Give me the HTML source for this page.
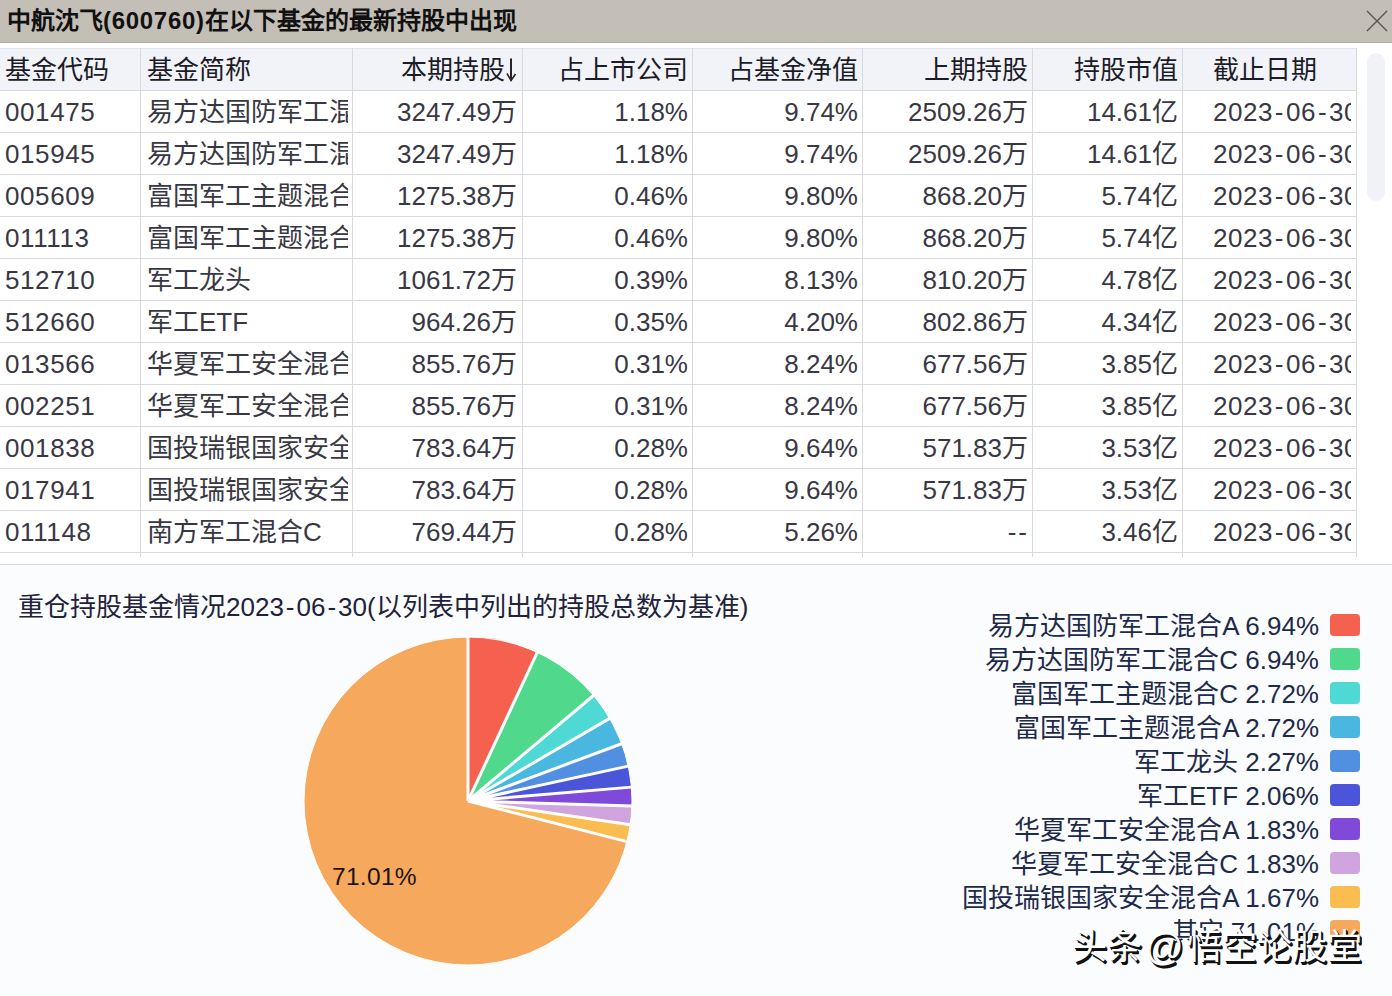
<!DOCTYPE html>
<html lang="zh-CN"><head><meta charset="utf-8">
<style>
*{margin:0;padding:0;box-sizing:border-box}
html,body{width:1392px;height:996px;overflow:hidden;background:#fbfcfe;font-family:"Liberation Sans",sans-serif;color:#262633}
#title{position:absolute;left:0;top:0;width:1392px;height:43px;background:#c3beb6;border-bottom:1px solid #b3aea5}
#title .t{position:absolute;left:7px;top:6px;font-size:24px;font-weight:bold;color:#111;line-height:30px;white-space:nowrap}
.pn{letter-spacing:0.7px}
#close{position:absolute;left:1366px;top:10px;width:22px;height:22px}
#tbl{position:absolute;left:0;top:43px;width:1392px;height:521px;background:#fff}
#tbl>*{position:absolute}
.hbg{left:0;top:48px;width:1356px;height:42px;background:#f1f3f8;margin-top:-43px;border-top:1px solid #e3e5eb}
.hl{left:0;width:1356px;height:1px;background:#d8dae0;margin-top:-43px}
.vl{top:5px;width:1px;height:509px;background:#d8dae0}
.c{height:42px;line-height:42px;font-size:26px;white-space:nowrap;overflow:hidden;margin-top:-42px;color:#383844}
.c.h{color:#1c1c28}
.r{text-align:right}
.hy{padding:0 2px}
.ar{font-size:22px}
#sep{position:absolute;left:0;top:564px;width:1392px;height:1px;background:#d9dbe1}
#sb{position:absolute;left:1367px;top:53px;width:18px;height:148px;background:#f0f2f7;border-radius:9px}
#ctitle{position:absolute;left:18px;top:591px;font-size:26px;line-height:32px;white-space:nowrap;color:#22223a}
.lgt{position:absolute;right:73px;margin-top:1px;font-size:26px;line-height:32px;white-space:nowrap;color:#1e2a4a}
.sq{position:absolute;left:1330px;width:30px;height:22px;border-radius:4px}
#plab{position:absolute;left:332px;top:862px;font-size:24.5px;line-height:30px;letter-spacing:0.3px;color:#1c1410}
#wm{position:absolute;left:1072px;top:925px;font-size:35px;line-height:44px;white-space:nowrap;color:#fff;font-weight:normal;text-shadow:1px 1px 0 #111,2px 2px 0 #111,2px 3px 0 #111}
.dd{padding:0 1px}

.code{letter-spacing:0.6px}
.dt{letter-spacing:0.5px}
.at{font-size:38px;margin:0 3px 0 3px;vertical-align:-1px}

</style></head><body>
<div id="title"><div class="t">中航沈飞<span class=pn>(600760)</span>在以下基金的最新持股中出现</div>
<svg id="close" viewBox="0 0 22 22"><path d="M1 1L21 21M21 1L1 21" stroke="#57554f" stroke-width="1.35"/></svg>
</div>
<div id="tbl">
<div class="hbg" style="top:48px"></div>
<div class="hl" style="top:90px"></div>
<div class="hl" style="top:132px"></div>
<div class="hl" style="top:174px"></div>
<div class="hl" style="top:216px"></div>
<div class="hl" style="top:258px"></div>
<div class="hl" style="top:300px"></div>
<div class="hl" style="top:342px"></div>
<div class="hl" style="top:384px"></div>
<div class="hl" style="top:426px"></div>
<div class="hl" style="top:468px"></div>
<div class="hl" style="top:510px"></div>
<div class="hl" style="top:552px"></div>
<div class="vl" style="left:140px"></div>
<div class="vl" style="left:352px"></div>
<div class="vl" style="left:522px"></div>
<div class="vl" style="left:692px"></div>
<div class="vl" style="left:862px"></div>
<div class="vl" style="left:1032px"></div>
<div class="vl" style="left:1182px"></div>
<div class="vl" style="left:1356px"></div>
<div class="c h" style="left:5px;top:48px;width:135px">基金代码</div>
<div class="c h" style="left:147px;top:48px;width:201px">基金简称</div>
<div class="c r h" style="left:352px;top:48px;width:153px">本期持股</div>
<div class="c r h" style="left:522px;top:48px;width:166px">占上市公司</div>
<div class="c r h" style="left:692px;top:48px;width:166px">占基金净值</div>
<div class="c r h" style="left:862px;top:48px;width:166px">上期持股</div>
<div class="c r h" style="left:1032px;top:48px;width:146px">持股市值</div>
<div class="c h" style="left:1213px;top:48px;width:138px">截止日期</div>
<svg style="left:506px;top:15px" width="11" height="24" viewBox="0 0 11 24"><path d="M5 0.5V22.5" stroke="#2a2228" stroke-width="2"/><path d="M1 15.5L5 22.5L9.5 16" stroke="#2a2228" stroke-width="1.6" fill="none"/></svg>
<div class="c code" style="left:5px;top:90px;width:135px">001475</div>
<div class="c" style="left:147px;top:90px;width:201px">易方达国防军工混合A</div>
<div class="c r" style="left:352px;top:90px;width:165px">3247.49万</div>
<div class="c r" style="left:522px;top:90px;width:166px">1.18%</div>
<div class="c r" style="left:692px;top:90px;width:166px">9.74%</div>
<div class="c r" style="left:862px;top:90px;width:166px">2509.26万</div>
<div class="c r" style="left:1032px;top:90px;width:146px">14.61亿</div>
<div class="c dt" style="left:1213px;top:90px;width:138px">2023<span class=hy>-</span>06<span class=hy>-</span>30</div>
<div class="c code" style="left:5px;top:132px;width:135px">015945</div>
<div class="c" style="left:147px;top:132px;width:201px">易方达国防军工混合C</div>
<div class="c r" style="left:352px;top:132px;width:165px">3247.49万</div>
<div class="c r" style="left:522px;top:132px;width:166px">1.18%</div>
<div class="c r" style="left:692px;top:132px;width:166px">9.74%</div>
<div class="c r" style="left:862px;top:132px;width:166px">2509.26万</div>
<div class="c r" style="left:1032px;top:132px;width:146px">14.61亿</div>
<div class="c dt" style="left:1213px;top:132px;width:138px">2023<span class=hy>-</span>06<span class=hy>-</span>30</div>
<div class="c code" style="left:5px;top:174px;width:135px">005609</div>
<div class="c" style="left:147px;top:174px;width:201px">富国军工主题混合C</div>
<div class="c r" style="left:352px;top:174px;width:165px">1275.38万</div>
<div class="c r" style="left:522px;top:174px;width:166px">0.46%</div>
<div class="c r" style="left:692px;top:174px;width:166px">9.80%</div>
<div class="c r" style="left:862px;top:174px;width:166px">868.20万</div>
<div class="c r" style="left:1032px;top:174px;width:146px">5.74亿</div>
<div class="c dt" style="left:1213px;top:174px;width:138px">2023<span class=hy>-</span>06<span class=hy>-</span>30</div>
<div class="c code" style="left:5px;top:216px;width:135px">011113</div>
<div class="c" style="left:147px;top:216px;width:201px">富国军工主题混合A</div>
<div class="c r" style="left:352px;top:216px;width:165px">1275.38万</div>
<div class="c r" style="left:522px;top:216px;width:166px">0.46%</div>
<div class="c r" style="left:692px;top:216px;width:166px">9.80%</div>
<div class="c r" style="left:862px;top:216px;width:166px">868.20万</div>
<div class="c r" style="left:1032px;top:216px;width:146px">5.74亿</div>
<div class="c dt" style="left:1213px;top:216px;width:138px">2023<span class=hy>-</span>06<span class=hy>-</span>30</div>
<div class="c code" style="left:5px;top:258px;width:135px">512710</div>
<div class="c" style="left:147px;top:258px;width:201px">军工龙头</div>
<div class="c r" style="left:352px;top:258px;width:165px">1061.72万</div>
<div class="c r" style="left:522px;top:258px;width:166px">0.39%</div>
<div class="c r" style="left:692px;top:258px;width:166px">8.13%</div>
<div class="c r" style="left:862px;top:258px;width:166px">810.20万</div>
<div class="c r" style="left:1032px;top:258px;width:146px">4.78亿</div>
<div class="c dt" style="left:1213px;top:258px;width:138px">2023<span class=hy>-</span>06<span class=hy>-</span>30</div>
<div class="c code" style="left:5px;top:300px;width:135px">512660</div>
<div class="c" style="left:147px;top:300px;width:201px">军工ETF</div>
<div class="c r" style="left:352px;top:300px;width:165px">964.26万</div>
<div class="c r" style="left:522px;top:300px;width:166px">0.35%</div>
<div class="c r" style="left:692px;top:300px;width:166px">4.20%</div>
<div class="c r" style="left:862px;top:300px;width:166px">802.86万</div>
<div class="c r" style="left:1032px;top:300px;width:146px">4.34亿</div>
<div class="c dt" style="left:1213px;top:300px;width:138px">2023<span class=hy>-</span>06<span class=hy>-</span>30</div>
<div class="c code" style="left:5px;top:342px;width:135px">013566</div>
<div class="c" style="left:147px;top:342px;width:201px">华夏军工安全混合A</div>
<div class="c r" style="left:352px;top:342px;width:165px">855.76万</div>
<div class="c r" style="left:522px;top:342px;width:166px">0.31%</div>
<div class="c r" style="left:692px;top:342px;width:166px">8.24%</div>
<div class="c r" style="left:862px;top:342px;width:166px">677.56万</div>
<div class="c r" style="left:1032px;top:342px;width:146px">3.85亿</div>
<div class="c dt" style="left:1213px;top:342px;width:138px">2023<span class=hy>-</span>06<span class=hy>-</span>30</div>
<div class="c code" style="left:5px;top:384px;width:135px">002251</div>
<div class="c" style="left:147px;top:384px;width:201px">华夏军工安全混合C</div>
<div class="c r" style="left:352px;top:384px;width:165px">855.76万</div>
<div class="c r" style="left:522px;top:384px;width:166px">0.31%</div>
<div class="c r" style="left:692px;top:384px;width:166px">8.24%</div>
<div class="c r" style="left:862px;top:384px;width:166px">677.56万</div>
<div class="c r" style="left:1032px;top:384px;width:146px">3.85亿</div>
<div class="c dt" style="left:1213px;top:384px;width:138px">2023<span class=hy>-</span>06<span class=hy>-</span>30</div>
<div class="c code" style="left:5px;top:426px;width:135px">001838</div>
<div class="c" style="left:147px;top:426px;width:201px">国投瑞银国家安全混合A</div>
<div class="c r" style="left:352px;top:426px;width:165px">783.64万</div>
<div class="c r" style="left:522px;top:426px;width:166px">0.28%</div>
<div class="c r" style="left:692px;top:426px;width:166px">9.64%</div>
<div class="c r" style="left:862px;top:426px;width:166px">571.83万</div>
<div class="c r" style="left:1032px;top:426px;width:146px">3.53亿</div>
<div class="c dt" style="left:1213px;top:426px;width:138px">2023<span class=hy>-</span>06<span class=hy>-</span>30</div>
<div class="c code" style="left:5px;top:468px;width:135px">017941</div>
<div class="c" style="left:147px;top:468px;width:201px">国投瑞银国家安全混合C</div>
<div class="c r" style="left:352px;top:468px;width:165px">783.64万</div>
<div class="c r" style="left:522px;top:468px;width:166px">0.28%</div>
<div class="c r" style="left:692px;top:468px;width:166px">9.64%</div>
<div class="c r" style="left:862px;top:468px;width:166px">571.83万</div>
<div class="c r" style="left:1032px;top:468px;width:146px">3.53亿</div>
<div class="c dt" style="left:1213px;top:468px;width:138px">2023<span class=hy>-</span>06<span class=hy>-</span>30</div>
<div class="c code" style="left:5px;top:510px;width:135px">011148</div>
<div class="c" style="left:147px;top:510px;width:201px">南方军工混合C</div>
<div class="c r" style="left:352px;top:510px;width:165px">769.44万</div>
<div class="c r" style="left:522px;top:510px;width:166px">0.28%</div>
<div class="c r" style="left:692px;top:510px;width:166px">5.26%</div>
<div class="c r" style="left:862px;top:510px;width:166px"><span class=dd>-</span><span class=dd>-</span></div>
<div class="c r" style="left:1032px;top:510px;width:146px">3.46亿</div>
<div class="c dt" style="left:1213px;top:510px;width:138px">2023<span class=hy>-</span>06<span class=hy>-</span>30</div>
</div>
<div id="sep"></div>
<div id="sb"></div>
<div id="ctitle">重仓持股基金情况2023<span class=hy>-</span>06<span class=hy>-</span>30(以列表中列出的持股总数为基准)</div>
<svg style="position:absolute;left:0;top:0" width="1392" height="996"><path d="M468 801L468.00 637.00A164 164 0 0 1 537.27 652.35Z" fill="#f6604f"/><path d="M468 801L537.27 652.35A164 164 0 0 1 593.58 695.52Z" fill="#50d98d"/><path d="M468 801L593.58 695.52A164 164 0 0 1 609.69 718.42Z" fill="#4fd9d4"/><path d="M468 801L609.69 718.42A164 164 0 0 1 621.67 743.72Z" fill="#49b7e0"/><path d="M468 801L621.67 743.72A164 164 0 0 1 628.25 766.15Z" fill="#518fe0"/><path d="M468 801L628.25 766.15A164 164 0 0 1 631.41 787.13Z" fill="#4b55d9"/><path d="M468 801L631.41 787.13A164 164 0 0 1 631.92 805.97Z" fill="#7f4ad9"/><path d="M468 801L631.92 805.97A164 164 0 0 1 630.27 824.75Z" fill="#d0a4df"/><path d="M468 801L630.27 824.75A164 164 0 0 1 626.89 841.61Z" fill="#fbbc50"/><path d="M468 801L626.89 841.61A164 164 0 1 1 468.00 637.00Z" fill="#f6a95c"/><path d="M468 801L468.00 637.00M468 801L537.27 652.35M468 801L593.58 695.52M468 801L609.69 718.42M468 801L621.67 743.72M468 801L628.25 766.15M468 801L631.41 787.13M468 801L631.92 805.97M468 801L630.27 824.75M468 801L626.89 841.61" stroke="#fff" stroke-width="3" fill="none"/><circle cx="468" cy="801" r="164" fill="none" stroke="#fff" stroke-width="1"/></svg>
<div id="plab">71.01%</div>
<div class="lgt" style="top:609px">易方达国防军工混合A 6.94%</div><div class="sq" style="top:614px;background:#f6604f"></div>
<div class="lgt" style="top:643px">易方达国防军工混合C 6.94%</div><div class="sq" style="top:648px;background:#50d98d"></div>
<div class="lgt" style="top:677px">富国军工主题混合C 2.72%</div><div class="sq" style="top:682px;background:#4fd9d4"></div>
<div class="lgt" style="top:711px">富国军工主题混合A 2.72%</div><div class="sq" style="top:716px;background:#49b7e0"></div>
<div class="lgt" style="top:745px">军工龙头 2.27%</div><div class="sq" style="top:750px;background:#518fe0"></div>
<div class="lgt" style="top:779px">军工ETF 2.06%</div><div class="sq" style="top:784px;background:#4b55d9"></div>
<div class="lgt" style="top:813px">华夏军工安全混合A 1.83%</div><div class="sq" style="top:818px;background:#7f4ad9"></div>
<div class="lgt" style="top:847px">华夏军工安全混合C 1.83%</div><div class="sq" style="top:852px;background:#d0a4df"></div>
<div class="lgt" style="top:881px">国投瑞银国家安全混合A 1.67%</div><div class="sq" style="top:886px;background:#fbbc50"></div>
<div class="lgt" style="top:915px">其它 71.01%</div><div class="sq" style="top:920px;background:#f6a95c"></div>
<div id="wm">头条<span class=at>@</span>悟空论股堂</div>
</body></html>
